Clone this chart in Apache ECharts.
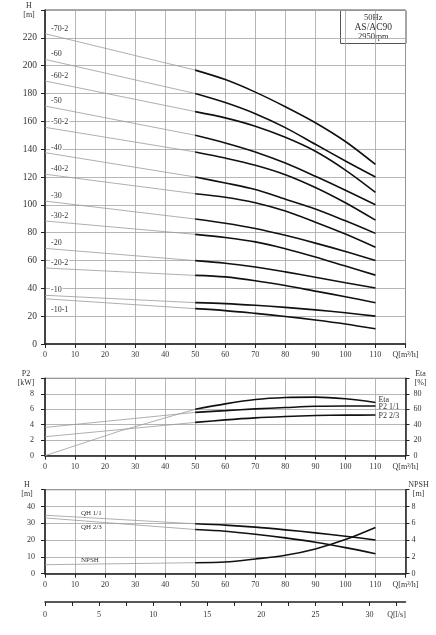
<!DOCTYPE html>
<html>
<head>
<meta charset="utf-8">
<title>AS/AC90 2950rpm</title>
<script src="https://cdn.jsdelivr.net/npm/echarts@6.0.0/dist/echarts.min.js"></script>
<style>
html, body { margin: 0; padding: 0; background: #fff; }
#chart { width: 436px; height: 635px; }
</style>
</head>
<body>
<div id="chart"></div>
<script>
// 流量点 Q[m3/h]
var qCurve = [50, 60, 70, 80, 90, 100, 110];
var qExt = [0, 50];
var qEtaExt = [0, 25, 50];
// 下方 l/s 刻度
var qLsTicks = [0, 2.5, 5, 7.5, 10, 12.5, 15, 17.5, 20, 22.5, 25, 27.5, 30, 32.5];

// H-Q 曲线 (上图)
var stageNames = ['-70-2', '-60', '-60-2', '-50', '-50-2', '-40', '-40-2', '-30', '-30-2', '-20', '-20-2', '-10', '-10-1'];
var headAtZero = [223, 204.5, 189, 171, 155.7, 137.5, 122, 102.7, 88.4, 68.7, 54.6, 35, 32.5];
var headCurves = [
    [196.8, 190, 181, 170.5, 159, 145.5, 129],
    [180, 173.5, 165.5, 155.5, 143.5, 131.5, 120],
    [167, 162.5, 156.5, 148.5, 138.5, 125, 109],
    [150, 144.5, 138, 130, 120.5, 110.5, 100],
    [138, 133.6, 128.5, 121.7, 112.5, 101.5, 89],
    [120, 115.7, 111, 104, 97, 88.5, 79.5],
    [108, 105.5, 101.5, 95.5, 87.5, 79, 69.5],
    [89.8, 86.8, 83, 78.1, 72.5, 66.5, 60],
    [78.8, 76.5, 73.4, 68.5, 62.5, 56, 49.5],
    [59.9, 58, 55.3, 51.8, 48, 44, 40.2],
    [49.3, 48.2, 45.5, 42, 38, 34, 29.6],
    [29.7, 29, 27.8, 26.3, 24.5, 22.4, 20],
    [25.4, 24, 22, 19.8, 17.3, 14.4, 10.9]
];

// 功率 / 效率 (中图)
var etaExt = [0, 32, 60];
var etaCurve = [60, 67, 72.6, 75.2, 75.7, 73.5, 68.8];
var p2FullExt = [3.65, 5.6];
var p2FullCurve = [5.6, 5.82, 6.05, 6.22, 6.38, 6.42, 6.42];
var p2PartExt = [2.45, 4.3];
var p2PartCurve = [4.3, 4.63, 4.89, 5.06, 5.19, 5.24, 5.25];

// 单级 H / NPSH (下图)
var qhFullExt = [34.8, 29.7];
var qhFullCurve = [29.7, 28.9, 27.7, 26.1, 24.3, 22.3, 20.1];
var qhPartExt = [33.2, 26.3];
var qhPartCurve = [26.3, 25.3, 23.5, 21.3, 18.7, 15.5, 11.9];
var npshExt = [1.07, 1.31];
var npshCurve = [1.31, 1.39, 1.75, 2.19, 2.95, 4.06, 5.5];

var FONT = 'Liberation Serif';
var TXT = '#333';
var GRIDC = '#a3a3a3';

var chart = echarts.init(document.getElementById('chart'));

function pairs(qs, vals) {
    return qs.map(function(q, i) { return [q, vals[i]]; });
}

function xAxisFor(g) {
    return {
        type: 'value', gridIndex: g, min: 0, max: 120, interval: 10,
        axisLine: { show: true, onZero: false, lineStyle: { color: '#222', width: 1.5 } },
        axisTick: { show: true, length: 4, lineStyle: { color: '#222' } },
        axisLabel: {
            margin: 7, fontSize: 8, color: TXT, fontFamily: FONT,
            showMinLabel: true, showMaxLabel: true,
            formatter: function(v) { return v === 120 ? 'Q[m³/h]' : v; }
        },
        splitLine: { show: true, lineStyle: { color: GRIDC, width: 0.8 } }
    };
}

function yAxisFor(g, max, interval, title, pos, margin, fontSize, split) {
    return {
        type: 'value', gridIndex: g, min: 0, max: max, interval: interval, position: pos,
        axisLine: { show: true, onZero: false, lineStyle: { color: '#222', width: 1.5 } },
        axisTick: { show: true, length: 4, lineStyle: { color: '#222' } },
        axisLabel: {
            margin: margin, fontSize: fontSize, color: TXT, fontFamily: FONT,
            showMinLabel: true, showMaxLabel: true,
            formatter: function(v) {
                if (v === max) {
                    return '{u|' + title[0] + '}\n{u|' + title[1] + '}';
                }
                return v;
            },
            rich: {
                u: { width: pos === 'left' ? 16 : 14, align: 'center', fontSize: 8, lineHeight: 9, fontFamily: FONT, color: TXT }
            }
        },
        splitLine: { show: split, lineStyle: { color: GRIDC, width: 0.8 } }
    };
}

var series = [];

function thinLine(xi, yi, data) {
    var s = {
        type: 'line', xAxisIndex: xi, yAxisIndex: yi, data: data,
        symbol: 'circle', symbolSize: 0, silent: true, animation: false,
        lineStyle: { color: '#9a9a9a', width: 0.8 }, z: 2
    };
    series.push(s);
    return s;
}

function thickLine(xi, yi, data, name, labelOffset) {
    var s = {
        type: 'line', xAxisIndex: xi, yAxisIndex: yi, data: data, name: name,
        showSymbol: false, smooth: 0.3, silent: true, animation: false,
        lineStyle: { color: '#111', width: 1.6 }, z: 3
    };
    if (labelOffset) {
        s.endLabel = {
            show: true, formatter: name, distance: 3, offset: labelOffset,
            fontSize: 8, color: TXT, fontFamily: FONT
        };
    }
    series.push(s);
    return s;
}

// 上图：各型号 H-Q
stageNames.forEach(function(name, i) {
    var ext = pairs(qExt, [headAtZero[i], headCurves[i][0]]);
    ext[0] = {
        value: ext[0],
        label: {
            show: true, position: 'right', distance: 5,
            offset: [0, name === '-10-1' ? 11 : -5],
            formatter: name, fontSize: 8, color: TXT, fontFamily: FONT,
            backgroundColor: '#fff', padding: [0, 1]
        }
    };
    thinLine(0, 0, ext);
    thickLine(0, 0, pairs(qCurve, headCurves[i]));
});

// 中图：P2 / Eta
thinLine(1, 2, pairs(qEtaExt, etaExt));
thickLine(1, 2, pairs(qCurve, etaCurve), 'Eta', [0, -3]);
thinLine(1, 1, pairs(qExt, p2FullExt));
thickLine(1, 1, pairs(qCurve, p2FullCurve), 'P2 1/1', [0, 1]);
thinLine(1, 1, pairs(qExt, p2PartExt));
thickLine(1, 1, pairs(qCurve, p2PartCurve), 'P2 2/3', [0, 1]);

// 下图：QH / NPSH
function bottomLabel(name, dy) {
    return {
        show: true, position: 'right', distance: 36, offset: [0, dy],
        formatter: name, fontSize: 7, color: TXT, fontFamily: FONT
    };
}
var qh1 = pairs(qExt, qhFullExt);
qh1[0] = { value: qh1[0], label: bottomLabel('QH 1/1', -2) };
thinLine(2, 3, qh1);
thickLine(2, 3, pairs(qCurve, qhFullCurve));
var qh2 = pairs(qExt, qhPartExt);
qh2[0] = { value: qh2[0], label: bottomLabel('QH 2/3', 9) };
thinLine(2, 3, qh2);
thickLine(2, 3, pairs(qCurve, qhPartCurve));
var np = pairs(qExt, npshExt);
np[0] = { value: np[0], label: bottomLabel('NPSH', -5) };
thinLine(2, 4, np);
thickLine(2, 4, pairs(qCurve, npshCurve));

var gridBase = { left: 45, right: 30.5, show: true, borderColor: '#555', borderWidth: 1, containLabel: false };

var option = {
    backgroundColor: '#fff',
    animation: false,
    grid: [
        Object.assign({ top: 10, height: 334 }, gridBase),
        Object.assign({ top: 378.3, height: 77.4 }, gridBase),
        Object.assign({ top: 489.7, height: 84 }, gridBase),
        { left: 45, right: 30.5, top: 601, height: 1, show: false }
    ],
    xAxis: [
        xAxisFor(0),
        xAxisFor(1),
        xAxisFor(2),
        {
            type: 'value', gridIndex: 3, min: 0, max: 120 / 3.6,
            axisLine: { show: true, onZero: false, lineStyle: { color: '#222', width: 1.5 } },
            axisTick: { show: true, length: 4, customValues: qLsTicks, lineStyle: { color: '#222' } },
            axisLabel: {
                margin: 9, fontSize: 8, color: TXT, fontFamily: FONT,
                customValues: qLsTicks,
                formatter: function(v) {
                    if (v === 32.5) return 'Q[l/s]';
                    return v % 5 === 0 ? v : '';
                }
            },
            splitLine: { show: false }
        }
    ],
    yAxis: [
        (function() {
            var a = yAxisFor(0, 240, 20, ['H', '[m]'], 'left', 8, 9.5, true);
            return a;
        })(),
        yAxisFor(1, 10, 2, ['P2', '[kW]'], 'left', 11, 8, true),
        yAxisFor(1, 100, 20, ['Eta', '[%]'], 'right', 8, 8, false),
        yAxisFor(2, 50, 10, ['H', '[m]'], 'left', 10, 8, true),
        yAxisFor(2, 10, 2, ['NPSH', '[m]'], 'right', 6, 8, false),
        { type: 'value', gridIndex: 3, show: false, min: 0, max: 1 }
    ],
    graphic: [
        {
            type: 'group', left: 340, top: 10, z: 100,
            children: [
                { type: 'rect', shape: { x: 0, y: 0, width: 65.5, height: 33 }, style: { fill: '#fff', stroke: '#555', lineWidth: 1 } },
                { type: 'text', x: 32.75, y: 7, style: { text: '50Hz', fontSize: 8.5, fontFamily: FONT, fill: TXT, align: 'center', verticalAlign: 'middle' } },
                { type: 'text', x: 32.75, y: 17, style: { text: 'AS/AC90', fontSize: 9.5, fontFamily: FONT, fill: TXT, align: 'center', verticalAlign: 'middle' } },
                { type: 'text', x: 32.75, y: 26, style: { text: '2950rpm', fontSize: 8.5, fontFamily: FONT, fill: TXT, align: 'center', verticalAlign: 'middle' } }
            ]
        }
    ],
    series: series
};

chart.setOption(option);
</script>
</body>
</html>
